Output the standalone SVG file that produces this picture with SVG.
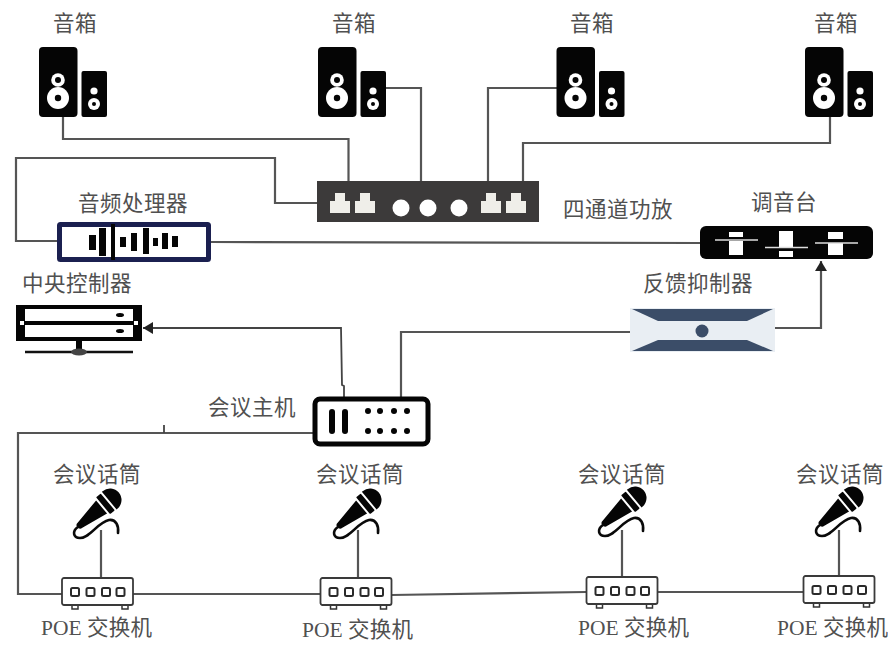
<svg xmlns="http://www.w3.org/2000/svg" width="888" height="645" viewBox="0 0 888 645">
<style>
text{font-family:"Noto Sans CJK SC","Noto Sans CJK JP",sans-serif;font-size:21.5px;letter-spacing:.5px;fill:#505050;font-weight:400}
.poe{font-family:"Liberation Serif","Noto Sans CJK SC",serif;letter-spacing:0}
.poe tspan{font-family:"Noto Sans CJK SC",sans-serif;letter-spacing:.3px}
.w{stroke:#555;stroke-width:2.2;fill:none}
.wt{fill:none;stroke:#444;stroke-width:1.8}
.k{fill:#050505}
.wh{fill:#fff}
.jack{fill:#efeee9}
.sw{fill:#fff;stroke:#3a3a3a;stroke-width:1.8}
</style>
<defs>
<marker id="arr" markerUnits="userSpaceOnUse" markerWidth="11" markerHeight="12" refX="10" refY="6" orient="auto"><path d="M0,0L10,6L0,12z" fill="#222"/></marker>
<g id="spk">
<rect class="k" x="39" y="47" width="38.5" height="70" rx="4"/>
<rect class="k" x="81.5" y="71" width="25.5" height="46" rx="2"/>
<circle class="wh" cx="58" cy="80" r="6.8"/><circle class="k" cx="58" cy="80" r="3"/>
<circle class="wh" cx="58" cy="98" r="11"/><circle class="k" cx="58" cy="98" r="3.2"/>
<circle class="wh" cx="94" cy="91" r="3.6"/>
<circle class="wh" cx="94" cy="104" r="6"/><circle class="k" cx="94" cy="104" r="2"/>
</g>
<g id="jack"><path class="jack" d="M0,20V8H5V0H15V8H20V20z"/></g>
<g id="mic">
<g transform="rotate(50 110 500)">
<path class="k" d="M98.500,500a11.500,11.500 0 0 1 23,0v1h-23z"/>
<rect class="k" x="99" y="503" width="22" height="6" rx="1"/>
<path class="k" d="M101.500,511H118.500L113.500,539a3.500,3.500 0 0 1 -7,0z"/></g>
<path d="M78,527C72,531 73,538 80,538C90,538 98,522 109,520C116,519 119,526 118,533" fill="none" stroke="#0a0a0a" stroke-width="2.600" stroke-linecap="round"/>
</g>
<g id="sw">
<rect x="10" y="26" width="6" height="5" stroke="#333" stroke-width="1.500" fill="#fff"/>
<rect x="60" y="26" width="6" height="5" stroke="#333" stroke-width="1.500" fill="#fff"/>
<rect class="sw" x="0" y="0" width="71" height="27" rx="2"/>
<g fill="#fff" stroke="#2a2a2a" stroke-width="2">
<rect x="9" y="10" width="8" height="8" rx="1.500"/><rect x="24.500" y="10" width="8" height="8" rx="1.500"/><rect x="40" y="10" width="8" height="8" rx="1.500"/><rect x="54.500" y="10" width="8" height="8" rx="1.500"/>
</g>
</g>
</defs>
<rect width="888" height="645" fill="#fff"/>
<g id="connectors">
<path class="w" d="M63,117V139H348.500V181"/>
<path class="w" d="M385,88H421V181"/>
<path class="w" d="M557,88H488V181"/>
<path class="w" d="M830,117V143H523V181"/>
<path class="w" d="M317,203H275V158H16V241H57"/>
<path class="w" d="M211,242L700,243"/>
<path class="w" d="M775,328H821V261" marker-end="url(#arr)"/>
<path class="w" d="M630,332H401V397"/>
<path class="wt" d="M344,397V386L342,385L341,328H143" marker-end="url(#arr)"/>
<path class="w" d="M314,433H18V594H62"/>
<path class="wt" d="M164,425V433"/>
<path class="w" d="M133,594H320"/>
<path class="w" d="M392,595L586,592"/>
<path class="w" d="M658,592H803"/>
<path class="w" d="M101,530V578M358,530V578M622,530V577M839,530V576"/>
</g>
<g id="speaker-1"><use href="#spk"/><text x="53" y="31">音箱</text></g>
<g id="speaker-2"><use href="#spk" x="279"/><text x="332" y="31">音箱</text></g>
<g id="speaker-3"><use href="#spk" x="517.500"/><text x="570" y="31">音箱</text></g>
<g id="speaker-4"><use href="#spk" x="766"/><text x="814" y="31">音箱</text></g>
<g id="amplifier">
<rect x="317" y="181" width="222" height="41" fill="#3c3a3a"/>
<use href="#jack" x="330" y="193"/><use href="#jack" x="355" y="193"/><use href="#jack" x="481" y="193"/><use href="#jack" x="506" y="193"/>
<circle class="wh" cx="401" cy="208" r="8.500"/><circle class="wh" cx="428" cy="208" r="8.500"/><circle class="wh" cx="459" cy="208" r="8.500"/>
<text x="563" y="217">四通道功放</text>
</g>
<g id="audio-processor">
<rect x="59.500" y="224.500" width="149" height="35" fill="#fff" stroke="#1b2050" stroke-width="5" rx="1"/>
<rect x="111" y="224" width="4" height="36" class="k"/>
<g class="k">
<rect x="89" y="235" width="7" height="15"/><rect x="99" y="228" width="7" height="28"/>
<rect x="120" y="237" width="6" height="10"/><rect x="131" y="233" width="6" height="18"/><rect x="143" y="228" width="6" height="26"/><rect x="153" y="238" width="5" height="8"/><rect x="162" y="233" width="6" height="16"/><rect x="172" y="236" width="6" height="11"/>
</g>
<text x="78" y="211">音频处理器</text>
</g>
<g id="mixer">
<rect x="700" y="226" width="173" height="33" rx="6" fill="#050505"/>
<g class="wh">
<rect x="729" y="232" width="14" height="5"/><rect x="729" y="241" width="14" height="14"/>
<rect x="779" y="231" width="14" height="16"/><rect x="779" y="251" width="14" height="6"/>
<rect x="828" y="232" width="15" height="7"/><rect x="828" y="243" width="15" height="12"/>
</g>
<g stroke="#ddd" stroke-width="1.500"><path d="M715,240H758M765,247.500H808M815,243H858"/></g>
<text x="751" y="210">调音台</text>
</g>
<g id="feedback-suppressor">
<rect x="630" y="308" width="145" height="44" fill="#e9eef3"/>
<path d="M632,309H773L747,321H658z" fill="#3b4d68"/>
<path d="M632,351H773L747,340H658z" fill="#3b4d68"/>
<circle cx="702" cy="331" r="6.500" fill="#3b4d68"/>
<text x="643" y="291">反馈抑制器</text>
</g>
<g id="central-controller">
<rect x="16" y="305" width="126" height="36" class="k"/>
<rect class="wh" x="25" y="309" width="108" height="12"/><rect class="wh" x="25" y="325" width="108" height="12"/>
<ellipse class="k" cx="120" cy="315" rx="4" ry="2"/><ellipse class="k" cx="120" cy="331" rx="4" ry="2"/>
<rect class="wh" x="20" y="321" width="4" height="4"/><rect class="wh" x="134" y="321" width="4" height="4"/>
<rect class="k" x="76" y="341" width="6" height="10"/>
<path d="M25,352H133" stroke="#111" stroke-width="2.500"/>
<ellipse cx="79" cy="352" rx="8" ry="3.500" fill="#444"/>
<text x="22" y="291">中央控制器</text>
</g>
<g id="conference-host">
<rect x="315" y="399" width="113" height="45" rx="5" fill="#fff" stroke="#050505" stroke-width="5"/>
<rect class="k" x="329" y="409" width="6" height="25" rx="3"/><rect class="k" x="342" y="409" width="6" height="25" rx="3"/>
<g class="k"><circle cx="368" cy="411" r="3"/><circle cx="380" cy="411" r="3"/><circle cx="394" cy="411" r="3"/><circle cx="407" cy="411" r="3"/><circle cx="368" cy="431" r="3"/><circle cx="380" cy="431" r="3"/><circle cx="394" cy="431" r="3"/><circle cx="407" cy="431" r="3"/></g>
<text x="208" y="415">会议主机</text>
</g>
<g id="mic-1"><use href="#mic"/><text x="53" y="482">会议话筒</text></g>
<g id="mic-2"><use href="#mic" x="260"/><text x="316" y="482">会议话筒</text></g>
<g id="mic-3"><use href="#mic" x="525" y="-2"/><text x="578" y="482">会议话筒</text></g>
<g id="mic-4"><use href="#mic" x="742" y="-2"/><text x="796" y="482">会议话筒</text></g>
<g id="switch-1"><use href="#sw" x="62" y="578"/><text class="poe" x="41" y="635">POE <tspan>交换机</tspan></text></g>
<g id="switch-2"><use href="#sw" x="320.500" y="578"/><text class="poe" x="302" y="637">POE <tspan>交换机</tspan></text></g>
<g id="switch-3"><use href="#sw" x="586.500" y="577"/><text class="poe" x="578" y="635">POE <tspan>交换机</tspan></text></g>
<g id="switch-4"><use href="#sw" x="803.500" y="576"/><text class="poe" x="777" y="635">POE <tspan>交换机</tspan></text></g>
</svg>
